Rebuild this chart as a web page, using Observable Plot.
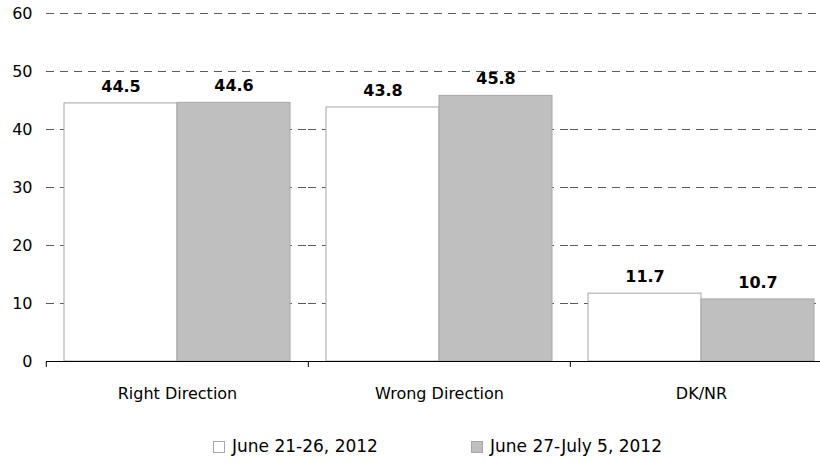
<!DOCTYPE html>
<html><head><meta charset="utf-8">
<script src="https://cdn.jsdelivr.net/npm/d3@7"></script>
<script src="https://cdn.jsdelivr.net/npm/@observablehq/plot@0.6"></script>
<style>
body{margin:0;background:#fff;overflow:hidden;font-family:"DejaVu Sans",sans-serif;}
#chart{width:820px;height:463px;position:relative;}
#legend{position:absolute;left:0;top:430px;width:820px;height:33px;font-size:17px;color:#000;}
.item{position:absolute;top:6px;display:flex;align-items:center;white-space:nowrap;}
.sw{width:10px;height:10px;border:1px solid #a6a6a6;margin-right:7px;margin-top:2px;}
</style></head><body><div id="chart"></div><script>
const categories = ["Right Direction", "Wrong Direction", "DK/NR"];
const seriesNames = ["June 21-26, 2012", "June 27-July 5, 2012"];
const valuesJune21 = [44.5, 43.8, 11.7];
const valuesJune27 = [44.6, 45.8, 10.7];
const yTicks = [0, 10, 20, 30, 40, 50, 60];
const seriesColors = ["#ffffff", "#bfbfbf"];

const data = categories.flatMap((c, i) => [
  {category: c, series: seriesNames[0], value: valuesJune21[i]},
  {category: c, series: seriesNames[1], value: valuesJune27[i]}
]);

const chart = Plot.plot({
  width: 820, height: 430,
  marginLeft: 45, marginRight: -12, marginTop: 13, marginBottom: 69,
  style: {fontFamily: "DejaVu Sans", fontSize: "16px", color: "#000", background: "transparent"},
  fx: {domain: categories, padding: 0, label: null},
  x: {domain: seriesNames, paddingInner: 0, paddingOuter: 0.15, axis: null},
  y: {domain: [0, 60], label: null},
  color: {domain: seriesNames, range: seriesColors},
  marks: [
    Plot.gridY(yTicks.slice(1), {stroke: "#5a5a5a", strokeOpacity: 1, strokeDasharray: "8,6"}),
    Plot.barY(data, {fx: "category", x: "series", y: "value", fill: "series", stroke: "#a6a6a6"}),
    Plot.ruleY([0], {stroke: "#000"}),
    Plot.text(data, {fx: "category", x: "series", y: "value", text: d => d.value.toFixed(1), dy: -17, fontWeight: "bold", fontSize: 16, fill: "#000"}),
    Plot.axisY(yTicks, {tickSize: 0, tickPadding: 14, label: null, fontSize: 16}),
    Plot.axisFx({anchor: "bottom", tickSize: 0, tickPadding: 26, label: null, fontSize: 16}),
    Plot.axisFx({anchor: "bottom", text: null, tickSize: 6, dx: -131.2, label: null, stroke: "#000"})
  ]
});
const holder = document.getElementById("chart");
holder.appendChild(chart);
const legend = document.createElement("div");
legend.id = "legend";
const lefts = [213, 471];
seriesNames.forEach((s, i) => {
  const it = document.createElement("div");
  it.className = "item";
  it.style.left = lefts[i] + "px";
  const sw = document.createElement("span");
  sw.className = "sw";
  sw.style.background = seriesColors[i];
  const t = document.createElement("span");
  t.textContent = s;
  it.appendChild(sw); it.appendChild(t);
  legend.appendChild(it);
});
holder.appendChild(legend);
</script></body></html>
